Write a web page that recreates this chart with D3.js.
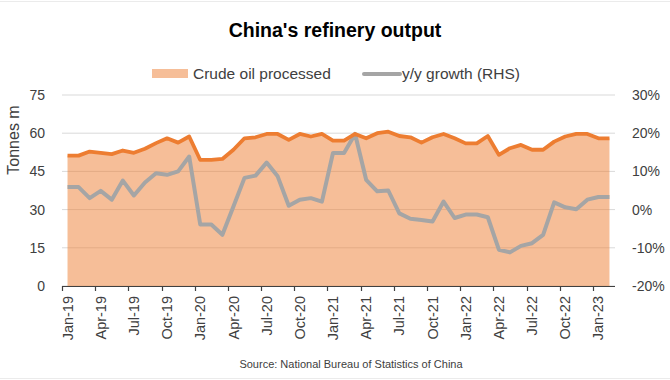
<!DOCTYPE html>
<html>
<head>
<meta charset="utf-8">
<script src="https://cdn.jsdelivr.net/npm/d3@7"></script>
<style>
  html, body { margin: 0; padding: 0; background: #fff; }
  svg { display: block; font-family: "Liberation Sans", Arial, sans-serif; }
</style>
</head>
<body>
<svg id="chart" width="670" height="380"></svg>
<script>
// ---- data ----
const months = [
  "Jan-19","Feb-19","Mar-19","Apr-19","May-19","Jun-19","Jul-19","Aug-19","Sep-19","Oct-19","Nov-19","Dec-19",
  "Jan-20","Feb-20","Mar-20","Apr-20","May-20","Jun-20","Jul-20","Aug-20","Sep-20","Oct-20","Nov-20","Dec-20",
  "Jan-21","Feb-21","Mar-21","Apr-21","May-21","Jun-21","Jul-21","Aug-21","Sep-21","Oct-21","Nov-21","Dec-21",
  "Jan-22","Feb-22","Mar-22","Apr-22","May-22","Jun-22","Jul-22","Aug-22","Sep-22","Oct-22","Nov-22","Dec-22",
  "Jan-23","Feb-23"
];
const crudeProcessed = [
  51.2, 51.2, 52.8, 52.3, 51.8, 53.2, 52.3, 53.9, 56.1, 58.0, 56.3, 58.7,
  49.5, 49.5, 49.9, 53.5, 58.0, 58.4, 59.7, 59.7, 57.4, 59.7, 58.7, 59.7,
  57.1, 57.1, 59.7, 58.0, 60.0, 60.6, 58.9, 58.4, 56.3, 58.4, 59.7, 58.0,
  56.0, 56.0, 58.9, 51.5, 54.1, 55.4, 53.5, 53.5, 56.7, 58.7, 59.7, 59.7,
  58.0, 58.0
];
const yoyGrowth = [
  5.9, 5.9, 3.0, 4.9, 2.6, 7.6, 3.7, 7.1, 9.5, 9.1, 10.0, 13.9,
  -3.9, -3.9, -6.6, 0.8, 8.3, 8.9, 12.3, 8.7, 1.0, 2.6, 3.0, 2.1,
  14.8, 14.8, 19.8, 7.8, 4.8, 5.0, -1.0, -2.4, -2.7, -3.1, 2.1, -2.2,
  -1.3, -1.3, -2.0, -10.5, -11.2, -9.5, -8.8, -6.6, 1.9, 0.6, 0.1, 2.6,
  3.3, 3.3
];
const xTickLabels = ["Jan-19","Apr-19","Jul-19","Oct-19","Jan-20","Apr-20","Jul-20","Oct-20",
  "Jan-21","Apr-21","Jul-21","Oct-21","Jan-22","Apr-22","Jul-22","Oct-22","Jan-23"];
const leftTicks = [0, 15, 30, 45, 60, 75];
const rightTicks = [-20, -10, 0, 10, 20, 30];

const title = "China's refinery output";
const seriesNames = ["Crude oil processed", "y/y growth (RHS)"];
const leftAxisTitle = "Tonnes m";
const sourceText = "Source: National Bureau of Statistics of China";

// ---- layout ----
const ORANGE = "#ED7D31", GREY = "#A5A5A5", AREA = "#F6BE98";
const plot = { left: 62, right: 615, top: 95, bottom: 286 };

const svg = d3.select("#chart");

const x = d3.scaleBand().domain(months).range([plot.left, plot.right]).paddingInner(0).paddingOuter(0);
const bw = x.bandwidth();
const yL = d3.scaleLinear().domain([0, 75]).range([plot.bottom, plot.top]);
const yR = d3.scaleLinear().domain([-20, 30]).range([plot.bottom, plot.top]);
const cx = m => x(m) + bw / 2;

// gridlines
svg.append("g").selectAll("line").data(leftTicks).join("line")
  .attr("x1", plot.left).attr("x2", plot.right)
  .attr("y1", d => yL(d)).attr("y2", d => yL(d))
  .attr("stroke", "#D9D9D9").attr("stroke-width", 1);

// area (semi-transparent over gridlines)
const area = d3.area().x((d, i) => cx(months[i])).y0(yL(0)).y1(d => yL(d));
svg.append("path").datum(crudeProcessed)
  .attr("d", area).attr("fill", ORANGE).attr("fill-opacity", 0.5);

// growth line
const lineR = d3.line().x((d, i) => cx(months[i])).y(d => yR(d));
svg.append("path").datum(yoyGrowth)
  .attr("d", lineR).attr("fill", "none").attr("stroke", GREY)
  .attr("stroke-width", 4).attr("stroke-linejoin", "round");

// crude line
const lineL = d3.line().x((d, i) => cx(months[i])).y(d => yL(d));
svg.append("path").datum(crudeProcessed)
  .attr("d", lineL).attr("fill", "none").attr("stroke", ORANGE)
  .attr("stroke-width", 3.8).attr("stroke-linejoin", "round");

// x axis
const xAxisG = svg.append("g");
xAxisG.append("line")
  .attr("x1", plot.left).attr("x2", plot.right)
  .attr("y1", plot.bottom + 0.5).attr("y2", plot.bottom + 0.5)
  .attr("stroke", "#404040").attr("stroke-width", 1.2);
xAxisG.selectAll("line.tick").data(xTickLabels).join("line")
  .attr("class", "tick")
  .attr("x1", d => Math.round(x(d)) + 0.5).attr("x2", d => Math.round(x(d)) + 0.5)
  .attr("y1", plot.bottom).attr("y2", plot.bottom + 5)
  .attr("stroke", "#404040").attr("stroke-width", 1.2);
xAxisG.selectAll("text").data(xTickLabels).join("text")
  .attr("transform", d => `translate(${cx(d)},${plot.bottom + 10}) rotate(-90)`)
  .attr("text-anchor", "end").attr("dy", "0.35em")
  .attr("font-size", 14.5).attr("fill", "#404040")
  .text(d => d);

// left axis labels
svg.append("g").selectAll("text").data(leftTicks).join("text")
  .attr("x", 45).attr("y", d => yL(d)).attr("dy", "0.35em")
  .attr("text-anchor", "end").attr("font-size", 14).attr("fill", "#404040")
  .text(d => d);

// right axis labels
svg.append("g").selectAll("text").data(rightTicks).join("text")
  .attr("x", 632).attr("y", d => yR(d)).attr("dy", "0.35em")
  .attr("text-anchor", "start").attr("font-size", 14).attr("fill", "#404040")
  .text(d => d + "%");

// left axis title
svg.append("text")
  .attr("transform", `translate(13,140) rotate(-90)`)
  .attr("text-anchor", "middle").attr("dy", "0.35em")
  .attr("font-size", 16).attr("fill", "#404040")
  .text(leftAxisTitle);

// title
svg.append("text")
  .attr("x", 335).attr("y", 37).attr("text-anchor", "middle")
  .attr("font-size", 19.5).attr("font-weight", "bold").attr("fill", "#000")
  .text(title);

// legend
const lg = svg.append("g");
lg.append("rect").attr("x", 152).attr("y", 69).attr("width", 36).attr("height", 9).attr("fill", AREA);
lg.append("text").attr("x", 193).attr("y", 79).attr("font-size", 15.5).attr("fill", "#404040").text(seriesNames[0]);
lg.append("line").attr("x1", 364).attr("x2", 400).attr("y1", 74).attr("y2", 74)
  .attr("stroke", GREY).attr("stroke-width", 4).attr("stroke-linecap", "round");
lg.append("text").attr("x", 402).attr("y", 79).attr("font-size", 15.5).attr("fill", "#404040").text(seriesNames[1]);

// source
svg.append("text")
  .attr("x", 351).attr("y", 368).attr("text-anchor", "middle")
  .attr("font-size", 11).attr("fill", "#404040")
  .text(sourceText);

// faint frame lines
svg.append("line").attr("x1", 0).attr("x2", 670).attr("y1", 1.5).attr("y2", 1.5).attr("stroke", "#EBEBEB");
svg.append("line").attr("x1", 0).attr("x2", 670).attr("y1", 378.5).attr("y2", 378.5).attr("stroke", "#EBEBEB");
</script>
</body>
</html>
